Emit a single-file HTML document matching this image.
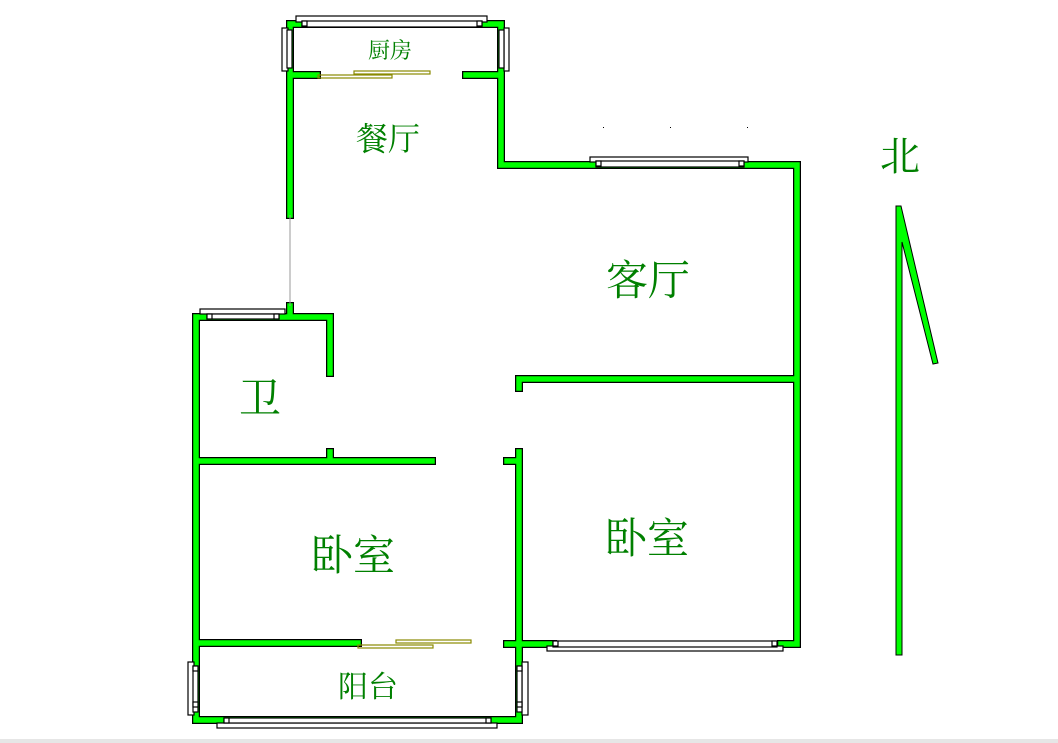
<!DOCTYPE html>
<html><head><meta charset="utf-8"><style>
html,body{margin:0;padding:0;background:#fff;}
svg{display:block}
text{font-family:"Liberation Serif","Noto Serif CJK SC","Noto Sans CJK SC",serif;fill:#008000;}
</style></head><body>
<svg width="1058" height="743" viewBox="0 0 1058 743" xmlns="http://www.w3.org/2000/svg">
<rect x="0" y="739" width="1058" height="4" fill="#e6e6e6"/>
<g stroke="#000" stroke-width="8" stroke-linecap="square" fill="none">
<path d="M290 24H501V165H797V644H781 M290 24V215 M290 75H317 M466 75H501 M290 306V317 M196 317H330V373 M196 317V720H519V644H507 M519 644H553 M196 461H432 M330 452V461 M519 452V644 M507 461H519 M519 379H797 M519 379V388 M196 643H358"/>
</g>
<g stroke="#00ff00" stroke-width="5.5" stroke-linecap="square" fill="none">
<path d="M290 24H501V165H797V644H781 M290 24V215 M290 75H317 M466 75H501 M290 306V317 M196 317H330V373 M196 317V720H519V644H507 M519 644H553 M196 461H432 M330 452V461 M519 452V644 M507 461H519 M519 379H797 M519 379V388 M196 643H358"/>
</g>
<line x1="290" y1="215" x2="290" y2="306" stroke="#999" stroke-width="1"/>
<g fill="#fff" stroke="#000" stroke-width="1.2">
<rect x="296" y="16" width="191" height="6"/><rect x="302" y="21" width="180" height="6"/>
<rect x="302" y="21" width="5" height="5"/><rect x="477" y="21" width="5" height="5"/>
<rect x="282" y="28" width="6" height="43"/><rect x="287" y="30" width="5" height="38"/>
<rect x="504" y="28" width="5" height="43"/><rect x="499" y="30" width="5" height="38"/>
<rect x="590" y="157" width="158" height="5"/><rect x="596" y="161" width="148" height="6"/>
<rect x="596" y="161" width="5" height="5"/><rect x="739" y="161" width="5" height="5"/>
<rect x="200" y="309" width="85" height="5"/><rect x="207" y="314" width="72" height="5"/>
<rect x="207" y="314" width="5" height="5"/><rect x="274" y="314" width="5" height="5"/>
<rect x="547" y="646" width="236" height="5"/><rect x="553" y="641" width="224" height="6"/>
<rect x="553" y="641" width="5" height="5"/><rect x="772" y="641" width="5" height="5"/>
<rect x="188" y="662" width="6" height="53"/><rect x="193" y="666" width="5" height="46"/>
<rect x="193" y="666" width="5" height="5"/><rect x="193" y="702" width="5" height="5"/>
<rect x="522" y="662" width="6" height="53"/><rect x="517" y="666" width="5" height="46"/>
<rect x="517" y="666" width="5" height="5"/><rect x="517" y="702" width="5" height="5"/>
<rect x="217" y="723" width="280" height="5"/><rect x="224" y="718" width="267" height="5"/>
<rect x="224" y="718" width="5" height="5"/><rect x="486" y="718" width="5" height="5"/>
</g>
<g fill="none" stroke="#8a8a00" stroke-width="1.2">
<rect x="318" y="75" width="74" height="3"/><rect x="354" y="71" width="76" height="3"/>
<rect x="358" y="645" width="75" height="3"/><rect x="396" y="640" width="75" height="3"/>
</g>
<polygon points="896,206 901,206 938,363 933,364 902,242 902,655 896,655" fill="#00ff00" stroke="#000" stroke-width="1"/>
<g fill="#000"><rect x="603" y="127" width="1" height="1"/><rect x="670" y="127" width="1" height="1"/><rect x="747" y="127" width="1" height="1"/></g>
<text x="390" y="58" font-size="22" text-anchor="middle">厨房</text>
<text x="388" y="150" font-size="32" text-anchor="middle">餐厅</text>
<text x="648" y="295" font-size="42" text-anchor="middle">客厅</text>
<text x="260" y="413" font-size="42" text-anchor="middle">卫</text>
<text x="353" y="570" font-size="42" text-anchor="middle">卧室</text>
<text x="647" y="553" font-size="42" text-anchor="middle">卧室</text>
<text x="368" y="697" font-size="30" text-anchor="middle">阳台</text>
<text x="900" y="170" font-size="40" text-anchor="middle">北</text>
</svg>
</body></html>
